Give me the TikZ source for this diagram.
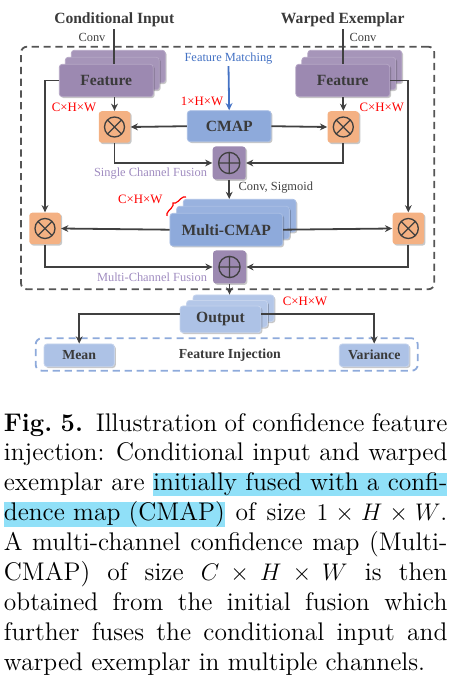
\documentclass[tikz,border=0pt]{standalone}
\usepackage{fontspec}
\usetikzlibrary{arrows.meta,shadows,decorations.pathreplacing,calc}
\newfontfamily\dfont{Liberation Serif}
\definecolor{featP}{HTML}{9C89B1}
\definecolor{cmapB}{HTML}{8EAADB}
\definecolor{outB}{HTML}{ADC2E6}
\definecolor{oxO}{HTML}{F4B183}
\definecolor{lineC}{HTML}{404040}
\definecolor{txtC}{HTML}{3A3A3A}
\definecolor{fmB}{HTML}{4472C4}
\definecolor{fusP}{HTML}{A08CC0}
\definecolor{dashG}{HTML}{555555}
\definecolor{hlC}{HTML}{90E0F8}
\newcommand\hlbox[1]{{\setlength{\fboxsep}{0pt}\colorbox{hlC}{\rule[-2.7pt]{0pt}{10.9pt}#1}}}
\begin{document}
\begin{tikzpicture}[x=0.5pt,y=-0.5pt,
  ln/.style={draw=lineC, line width=0.9pt},
  arr/.style={ln, -{Stealth[length=3.6pt,width=3.4pt]}},
  shad/.style={drop shadow={shadow xshift=0.7pt,shadow yshift=-0.7pt,opacity=0.22,fill=black}},
  boxbase/.style={shad, line width=0.4pt, rounded corners=1.5pt, inner sep=0pt, text=txtC,
    font=\dfont\bfseries\fontsize{7.8}{9}\selectfont},
  featbox/.style={boxbase, fill=featP, draw=featP!75!white, minimum width=47pt, minimum height=16.2pt},
  featback/.style={featbox, fill=featP!90!white},
  cmapbox/.style={boxbase, fill=cmapB, draw=cmapB!75!white, minimum width=41.85pt, minimum height=15.5pt},
  mcbox/.style={boxbase, fill=cmapB, draw=cmapB!75!white, minimum width=56.35pt, minimum height=16.35pt},
  mcback/.style={mcbox, fill=cmapB!90!white},
  outbox/.style={boxbase, fill=outB, draw=outB!70!white, minimum width=40.5pt, minimum height=13.35pt},
  outback/.style={outbox, fill=outB!92!white},
  mvbox/.style={boxbase, fill=outB, draw=outB!70!white, minimum height=11.35pt,
    font=\dfont\bfseries\fontsize{6.9}{8}\selectfont},
  oxbox/.style={shad, fill=oxO, rounded corners=1.5pt, minimum size=15.75pt, inner sep=0pt,
    path picture={
      \coordinate (pc) at (path picture bounding box.center);
      \draw[lineC, line width=0.65pt] (pc) circle[radius=5pt]
        ([shift={(45:5pt)}]pc) -- ([shift={(225:5pt)}]pc)
        ([shift={(135:5pt)}]pc) -- ([shift={(315:5pt)}]pc);
    }},
  opbox/.style={shad, fill=featP, rounded corners=1.5pt, minimum size=16.5pt, inner sep=0pt,
    path picture={
      \coordinate (pc) at (path picture bounding box.center);
      \draw[lineC, line width=0.65pt] (pc) circle[radius=5.3pt]
        ([shift={(0:5.3pt)}]pc) -- ([shift={(180:5.3pt)}]pc)
        ([shift={(90:5.3pt)}]pc) -- ([shift={(270:5.3pt)}]pc);
    }},
  titlef/.style={inner sep=1pt, text=txtC, font=\dfont\bfseries\fontsize{7.8}{9}\selectfont},
  lbl/.style={inner sep=0.5pt, text=lineC, font=\dfont\fontsize{6.2}{7}\selectfont},
  redl/.style={inner sep=0.5pt, text=red, font=\dfont\fontsize{6.4}{7}\selectfont},
  sbold/.style={inner sep=0.5pt, text=txtC, font=\dfont\bfseries\fontsize{6.9}{8}\selectfont}
]
\useasboundingbox (0,0) rectangle (475,683);
% frames
\node[draw=dashG, line width=0.9pt, dash pattern=on 3.6pt off 2.3pt, rounded corners=3pt,
  minimum width=206.65pt, minimum height=121.3pt, inner sep=0pt] (frame) at (227.65,168) {};
\node[draw=cmapB, line width=0.9pt, dash pattern=on 3.6pt off 2.4pt, rounded corners=3pt,
  minimum width=191pt, minimum height=16.2pt, inner sep=0pt] (fiframe) at (226.7,354.5) {};
% titles
\node[titlef] (condin) at (114.3,20) {Conditional Input};
\node[titlef] (warpex) at (342.7,20) {Warped Exemplar};
% feature stacks
\node[featback] (featL3) at (118.3,66.5) {};
\node[featback] (featL2) at (112.3,73.5) {};
\node[featbox] (featL) at (106.3,80.5) {Feature};
\node[featback] (featR3) at (354.8,66.5) {};
\node[featback] (featR2) at (348.8,73.5) {};
\node[featbox] (featR) at (342.8,80.5) {Feature};
% CMAP
\node[cmapbox] (cmap) at (229.2,126.2) {CMAP};
% multi-CMAP stack
\node[mcback] (mc3) at (239.6,215.7) {};
\node[mcback] (mc2) at (233,222.7) {};
\node[mcbox] (mc) at (226.3,229.7) {Multi-CMAP};
% output stack
\node[outback] (out3) at (233.5,308.3) {};
\node[outback] (out2) at (227,313.8) {};
\node[outbox] (out) at (220.5,319.3) {Output};
\node[mvbox, minimum width=35.15pt] (mean) at (79.2,355.3) {Mean};
\node[mvbox, minimum width=34.85pt] (var) at (374.2,355.3) {Variance};
% operators
\node[oxbox] (oxLi) at (114.5,127) {};
\node[oxbox] (oxRi) at (343.3,127) {};
\node[oxbox] (oxLf) at (45,228.5) {};
\node[oxbox] (oxRf) at (408.3,228.5) {};
\node[opbox] (sf) at (229.2,163) {};
\node[opbox] (mf) at (229.5,267) {};
% labels
\node[lbl] (convL) at (92,37) {Conv};
\node[lbl] (convR) at (363,37) {Conv};
\node[lbl, text=fmB] (fm) at (228.5,59) {Feature Matching};
\node[redl] (c1) at (202,101) {1×H×W};
\node[redl] (cL) at (74,107) {C×H×W};
\node[redl] (cR) at (381.7,107) {C×H×W};
\node[lbl, text=fusP] (scf) at (150.5,173.3) {Single Channel Fusion};
\node[lbl] (cs) at (275.8,187.7) {Conv, Sigmoid};
\node[redl] (cM) at (140.3,199) {C×H×W};
\node[lbl, text=fusP] (mcf) at (152,277.7) {Multi-Channel Fusion};
\node[redl] (cO) at (305,301.7) {C×H×W};
\node[sbold] (fi) at (229.8,355) {Feature Injection};
% brace
\coordinate (brA) at (167,216);
\coordinate (brB) at (186,197);
\draw[red, line width=0.6pt, decorate, decoration={brace, amplitude=2.5pt}] (brA) -- (brB);
% connectors
\draw[ln] (condin.south) -- (condin.south |- featL.north);
\draw[ln] (warpex.south) -- (warpex.south |- featR.north);
\draw[arr] (oxLi.north |- featL.south) -- (oxLi.north);
\draw[arr] (oxRi.north |- featR.south) -- (oxRi.north);
\draw[arr] (featL.west) -| (oxLf.north);
\draw[arr] (featR.east) -| (oxRf.north);
\draw[arr, draw=fmB] (fm.south) -- (cmap.north);
\draw[arr] (cmap.west) -- (oxLi.east);
\draw[arr] (cmap.east) -- (oxRi.west);
\draw[arr] (oxLi.south) |- (sf.west);
\draw[arr] (oxRi.south) |- (sf.east);
\draw[arr] (sf.south) -- (sf.south |- mc3.north);
\draw[arr] (mc.west) -- (oxLf.east);
\draw[arr] (mc.east) -- (oxRf.west);
\draw[arr] (oxLf.south) |- (mf.west);
\draw[arr] (oxRf.south) |- (mf.east);
\draw[arr] (mf.south) -- (mf.south |- out3.north);
\draw[arr] ([yshift=2.5pt]out.west) -| (mean.north);
\draw[arr] ([yshift=2.5pt]out.east) -| (var.north);
% caption
\node[anchor=base west, inner sep=0pt, text width=221.75pt, align=justify,
  font=\fontsize{12.75}{14.95}\selectfont] (cap) at (3.5,431) {%
\textbf{Fig.\nobreakspace5.}\hskip0.5em plus 0.3em Illustration of confidence feature\linebreak
injection: Conditional input and warped\linebreak
exemplar are \hlbox{initially fused with a confi-}\linebreak
\hlbox{dence map (CMAP)} of size $1\times H\times W$.\linebreak
A multi-channel confidence map (Multi-\linebreak
CMAP) of size $C\times H\times W$ is then\linebreak
obtained from the initial fusion which\linebreak
further fuses the conditional input and\linebreak
warped exemplar in multiple channels.};
\end{tikzpicture}
\end{document}
